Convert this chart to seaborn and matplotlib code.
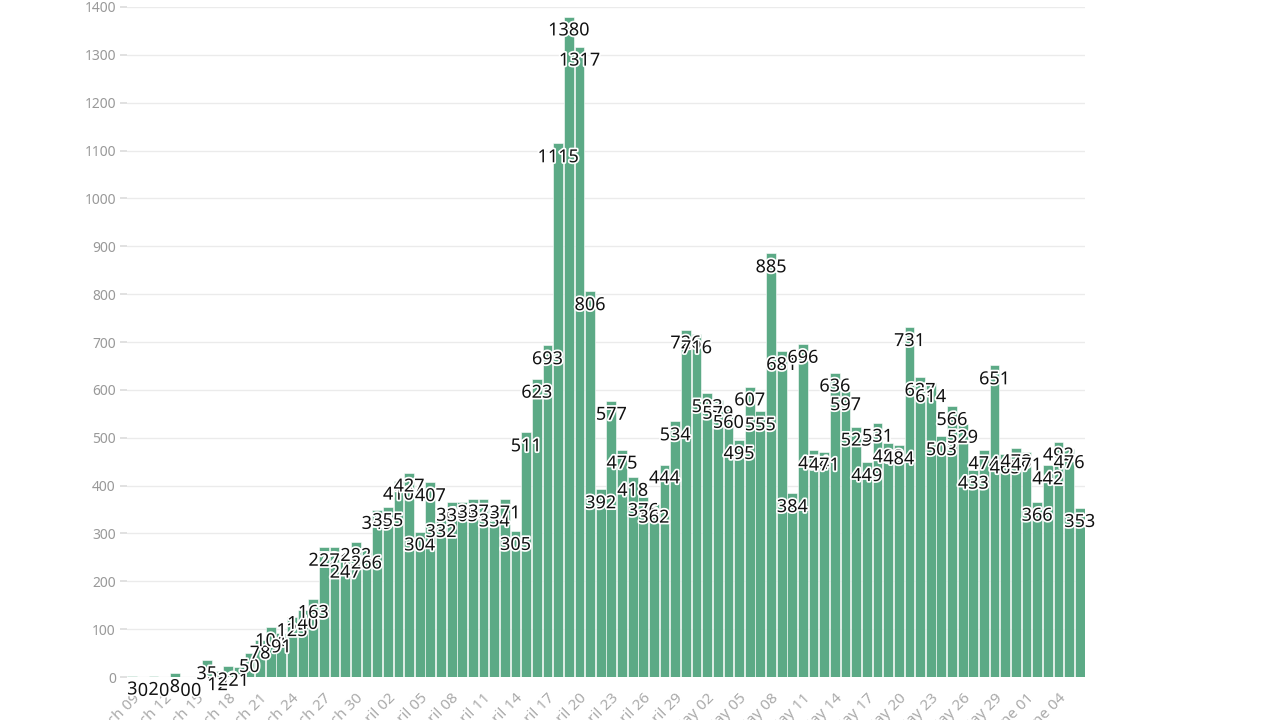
import pandas as pd
import numpy as np
import seaborn as sns
from matplotlib import pyplot as plt
import matplotlib.patheffects as pe

# daily counts, March 09 -> June 06
start_day = "2020-03-09"
cases = [3, 0, 2, 0, 8, 0, 0, 35, 12, 22,
         21, 50, 78, 104, 91, 125, 140, 163, 272, 271,
         247, 282, 266, 349, 355, 410, 427, 304, 407, 332,
         366, 365, 372, 373, 354, 371, 305, 511, 623, 693,
         1115, 1380, 1317, 806, 392, 577, 475, 418, 376, 362,
         444, 534, 726, 716, 593, 579, 560, 495, 607, 555,
         885, 681, 384, 696, 474, 471, 636, 597, 523, 449,
         531, 488, 484, 731, 627, 614, 503, 566, 529, 433,
         474, 651, 465, 478, 471, 366, 442, 492, 476, 353]
y_ticks = list(range(0, 1401, 100))

days = pd.date_range(start_day, periods=len(cases), freq="D")
day_labels = [d.strftime("%B %d") for d in days]
df = pd.DataFrame({"day": day_labels, "cases": cases})

sns.set_theme(style="white")
plt.rcParams["font.family"] = ["Noto Sans", "DejaVu Sans"]

fig = plt.figure(figsize=(12.8, 7.2), dpi=100)
ax = fig.add_axes([0.0992, 0.0597, 0.7485, 0.9306])

sns.barplot(data=df, x="day", y="cases", color="#5caa86", saturation=1,
            width=0.92, edgecolor="white", linewidth=0.4, ax=ax)

for i, v in enumerate(cases):
    ax.annotate(str(v), (i, v), xytext=(0, -10), textcoords="offset points",
                ha="center", va="center", fontsize=13, color="#111111",
                path_effects=[pe.withStroke(linewidth=2.5, foreground="white")])

ax.set_ylim(0, 1400)
ax.set_xlim(-0.5, len(cases) - 0.5)
ax.set_yticks(y_ticks)
ax.set_yticklabels([str(t) for t in y_ticks], color="#999999", fontsize=10)
ax.yaxis.grid(True, color="#ebebeb", linewidth=1)
ax.set_axisbelow(True)

ax.set_xticks(range(len(cases)))
ax.set_xticklabels([lab if i % 3 == 0 else "" for i, lab in enumerate(day_labels)],
                   rotation=45, ha="right", rotation_mode="anchor",
                   color="#aaaaaa", fontsize=11)
ax.tick_params(axis="x", length=4, color="#dddddd", pad=6)
ax.tick_params(axis="y", length=5, color="#dddddd", left=True, pad=3)
ax.set_xlabel("")
ax.set_ylabel("")
sns.despine(ax=ax, left=True, bottom=True)

plt.savefig("out.png", dpi=100)
